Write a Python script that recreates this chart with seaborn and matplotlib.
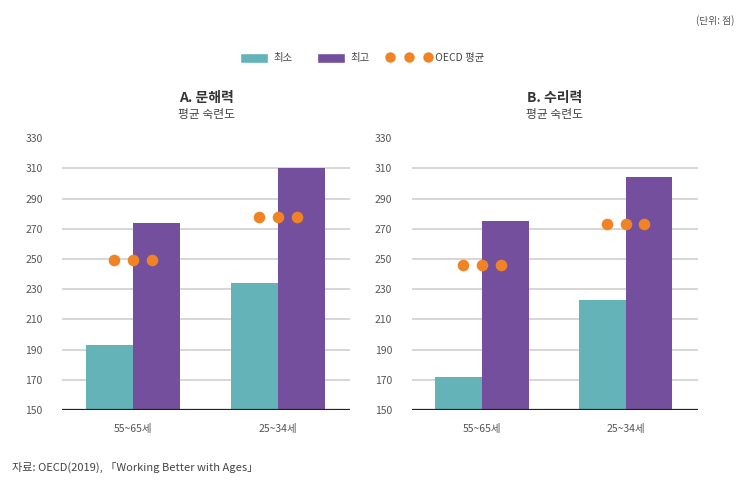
import pandas as pd
import matplotlib.pyplot as plt
import seaborn as sns
from matplotlib.patches import Patch
from matplotlib.lines import Line2D
from matplotlib.legend_handler import HandlerLine2D

sns.set_theme(style="white")
plt.rcParams['font.family'] = ['Noto Sans CJK KR', 'DejaVu Sans']

# data
age_groups = ['55~65세', '25~34세']
levels = ['최소', '최고']
literacy_min = [193, 234]
literacy_max = [274, 310]
literacy_oecd = [249, 278]
numeracy_min = [172, 223]
numeracy_max = [275, 304]
numeracy_oecd = [246, 273]
panel_titles = ['A. 문해력\n평균 숙련도', 'B. 수리력\n평균 숙련도']
y_ticks = list(range(150, 331, 20))

teal = '#63B3B8'
purple = '#734F9E'
orange = '#F08324'


def long_table(mins, maxs):
    rows = []
    for i, g in enumerate(age_groups):
        rows.append({'age': g, 'level': '최소', 'score': mins[i]})
        rows.append({'age': g, 'level': '최고', 'score': maxs[i]})
    return pd.DataFrame(rows)


panels = [
    (long_table(literacy_min, literacy_max), literacy_oecd),
    (long_table(numeracy_min, numeracy_max), numeracy_oecd),
]

fig = plt.figure(figsize=(7.39, 4.86), dpi=100)
ax_rects = [[0.084, 0.156, 0.390, 0.560], [0.557, 0.156, 0.387, 0.560]]

for k, (df, oecd) in enumerate(panels):
    ax = fig.add_axes(ax_rects[k])
    sns.barplot(data=df, x='age', y='score', hue='level', hue_order=levels,
                palette=[teal, purple], width=0.65, saturation=1,
                linewidth=0, legend=False, ax=ax)
    # OECD average shown as three dots over each group
    for offset in (-0.13, 0, 0.13):
        xs = [i + offset for i in range(len(age_groups))]
        ax.scatter(xs, oecd, s=70, color=orange, zorder=5, linewidths=0)
    ax.set_ylim(150, 330)
    ax.set_xlim(-0.49, 1.5)
    ax.set_yticks(y_ticks)
    ax.grid(axis='y', color='#cfcfcf', lw=1.2)
    ax.set_axisbelow(True)
    for gl in ax.yaxis.get_gridlines()[-1:] + ax.yaxis.get_gridlines()[:1]:
        gl.set_visible(False)
    ax.axhline(150, color='#222222', lw=1.6, zorder=6)
    for s in ax.spines.values():
        s.set_visible(False)
    ax.set_xlabel('')
    ax.set_ylabel('')
    ax.tick_params(axis='y', length=0, pad=14, labelsize=7.5, labelcolor='#555555')
    ax.tick_params(axis='x', length=0, pad=10, labelsize=7.5, labelcolor='#555555')
    ax.set_title(panel_titles[k].split('\n')[0], fontsize=10, fontweight='bold',
                 color='#333333', pad=26)
    ax.text(0.5, 1.085, panel_titles[k].split('\n')[1], transform=ax.transAxes,
            ha='center', va='center', fontsize=8.5, color='#444444')

handles = [
    Patch(facecolor=teal, label='최소'),
    Patch(facecolor=purple, label='최고'),
    Line2D([], [], marker='o', ls='', color=orange, markersize=7.5,
           markeredgewidth=0, label='   OECD 평균'),
]
fig.legend(handles=handles, loc='center', bbox_to_anchor=(0.49, 0.881), ncol=3,
           frameon=False, fontsize=7.5, handlelength=2.7, handleheight=1.1,
           columnspacing=2.4, handletextpad=0.5, labelcolor='#444444',
           handler_map={handles[2]: HandlerLine2D(numpoints=3, marker_pad=-0.45)})

fig.text(0.994, 0.958, '(단위: 점)', ha='right', va='center', fontsize=7, color='#555555')
fig.text(0.016, 0.039, '자료: OECD(2019), 「Working Better with Ages」', ha='left',
         va='center', fontsize=8, color='#444444')

fig.savefig('out.png', dpi=100)
